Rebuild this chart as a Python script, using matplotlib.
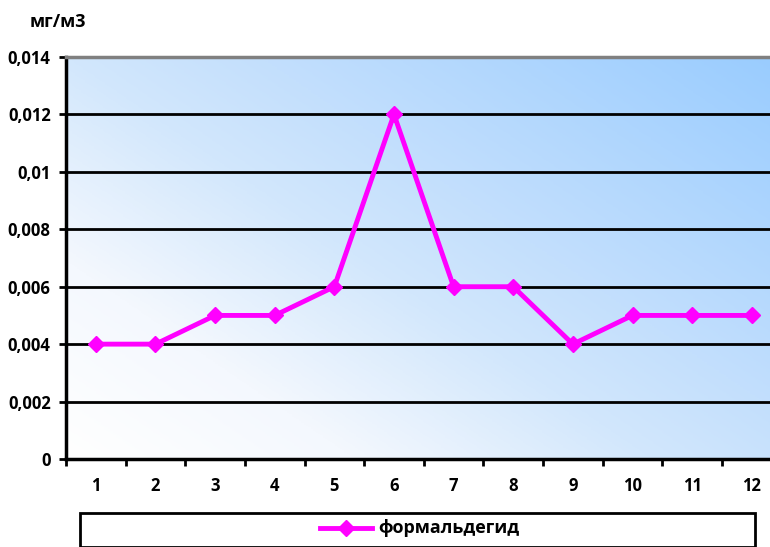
import numpy as np
import matplotlib
matplotlib.use("Agg")
import matplotlib.pyplot as plt
from matplotlib.colors import LinearSegmentedColormap
from matplotlib.patches import Rectangle
from matplotlib.lines import Line2D

plt.rcParams['font.family'] = ['Open Sans', 'DejaVu Sans']

months = [1, 2, 3, 4, 5, 6, 7, 8, 9, 10, 11, 12]
formaldehyde = [0.004, 0.004, 0.005, 0.005, 0.006, 0.012, 0.006, 0.006, 0.004, 0.005, 0.005, 0.005]
y_ticks = [0, 0.002, 0.004, 0.006, 0.008, 0.01, 0.012, 0.014]
y_tick_labels = ['0', '0,002', '0,004', '0,006', '0,008', '0,01', '0,012', '0,014']
series_name = 'формальдегид'
unit_label = 'мг/м3'

W, H = 770, 547
fig = plt.figure(figsize=(W / 100, H / 100), dpi=100)
fig.patch.set_facecolor('white')

left, right, top, bottom = 66, 781.6, 57, 459
ax = fig.add_axes([left / W, 1 - bottom / H, (right - left) / W, (bottom - top) / H])

# diagonal gradient background, light at bottom-left to blue at top-right
n = 300
xx, yy = np.meshgrid(np.linspace(0, 1, n), np.linspace(0, 1, n))
grad = (xx * 0.55 + yy * 0.45)
cmap = LinearSegmentedColormap.from_list(
    'bg', [(0.0, '#ffffff'), (0.22, '#f4f8fe'), (0.45, '#d2e7fc'),
           (0.6, '#c3dffd'), (1.0, '#99ccff')])
ax.imshow(grad, cmap=cmap, origin='lower', extent=[0, 1, 0, 1],
          transform=ax.transAxes, aspect='auto', zorder=0, interpolation='bilinear')

x = np.arange(len(months))
ax.set_xlim(-0.5, len(months) - 0.5)
ax.set_ylim(0, 0.014)

for v in y_ticks[1:-1]:
    ax.axhline(v, color='black', lw=2, zorder=1)

ax.plot(x, formaldehyde, color='#ff00ff', lw=3.5, marker='D', markersize=8,
        markerfacecolor='#ff00ff', markeredgecolor='#ff00ff', zorder=3, clip_on=False)

tick_font = dict(fontsize=12, fontweight='bold')
ax.set_yticks(y_ticks)
ax.set_yticklabels(y_tick_labels, **tick_font)
ax.set_xticks(x)
ax.set_xticklabels([str(m) for m in months], **tick_font)
ax.set_xticks(np.arange(-0.5, len(months)), minor=True)
ax.tick_params(axis='x', which='major', length=0, pad=13)
ax.tick_params(axis='x', which='minor', length=5, width=2, direction='out')
ax.tick_params(axis='y', length=5, width=2, direction='out', pad=6)

for s in ['left', 'bottom']:
    ax.spines[s].set_linewidth(2.5)
    ax.spines[s].set_color('black')
ax.spines['top'].set_color('#808080')
ax.spines['top'].set_linewidth(2.5)
ax.spines['right'].set_visible(False)

fig.text(30 / W, 1 - 22 / H, unit_label, fontsize=13, fontweight='bold', va='center', ha='left')

# legend box
fig.patches.append(Rectangle((80 / W, 0 / H), (755 - 80) / W, (547 - 513) / H,
                             transform=fig.transFigure, facecolor='white',
                             edgecolor='black', lw=2, zorder=5))
ly = 1 - 528 / H
fig.lines.append(Line2D([320 / W, 372 / W], [ly, ly], transform=fig.transFigure,
                        color='#ff00ff', lw=3.5, zorder=6))
fig.lines.append(Line2D([346 / W], [ly], transform=fig.transFigure, color='#ff00ff',
                        marker='D', markersize=8, zorder=6))
fig.text(378 / W, ly, series_name, fontsize=13, fontweight='bold', va='center', ha='left', zorder=7)

fig.savefig('out.png', dpi=100)
